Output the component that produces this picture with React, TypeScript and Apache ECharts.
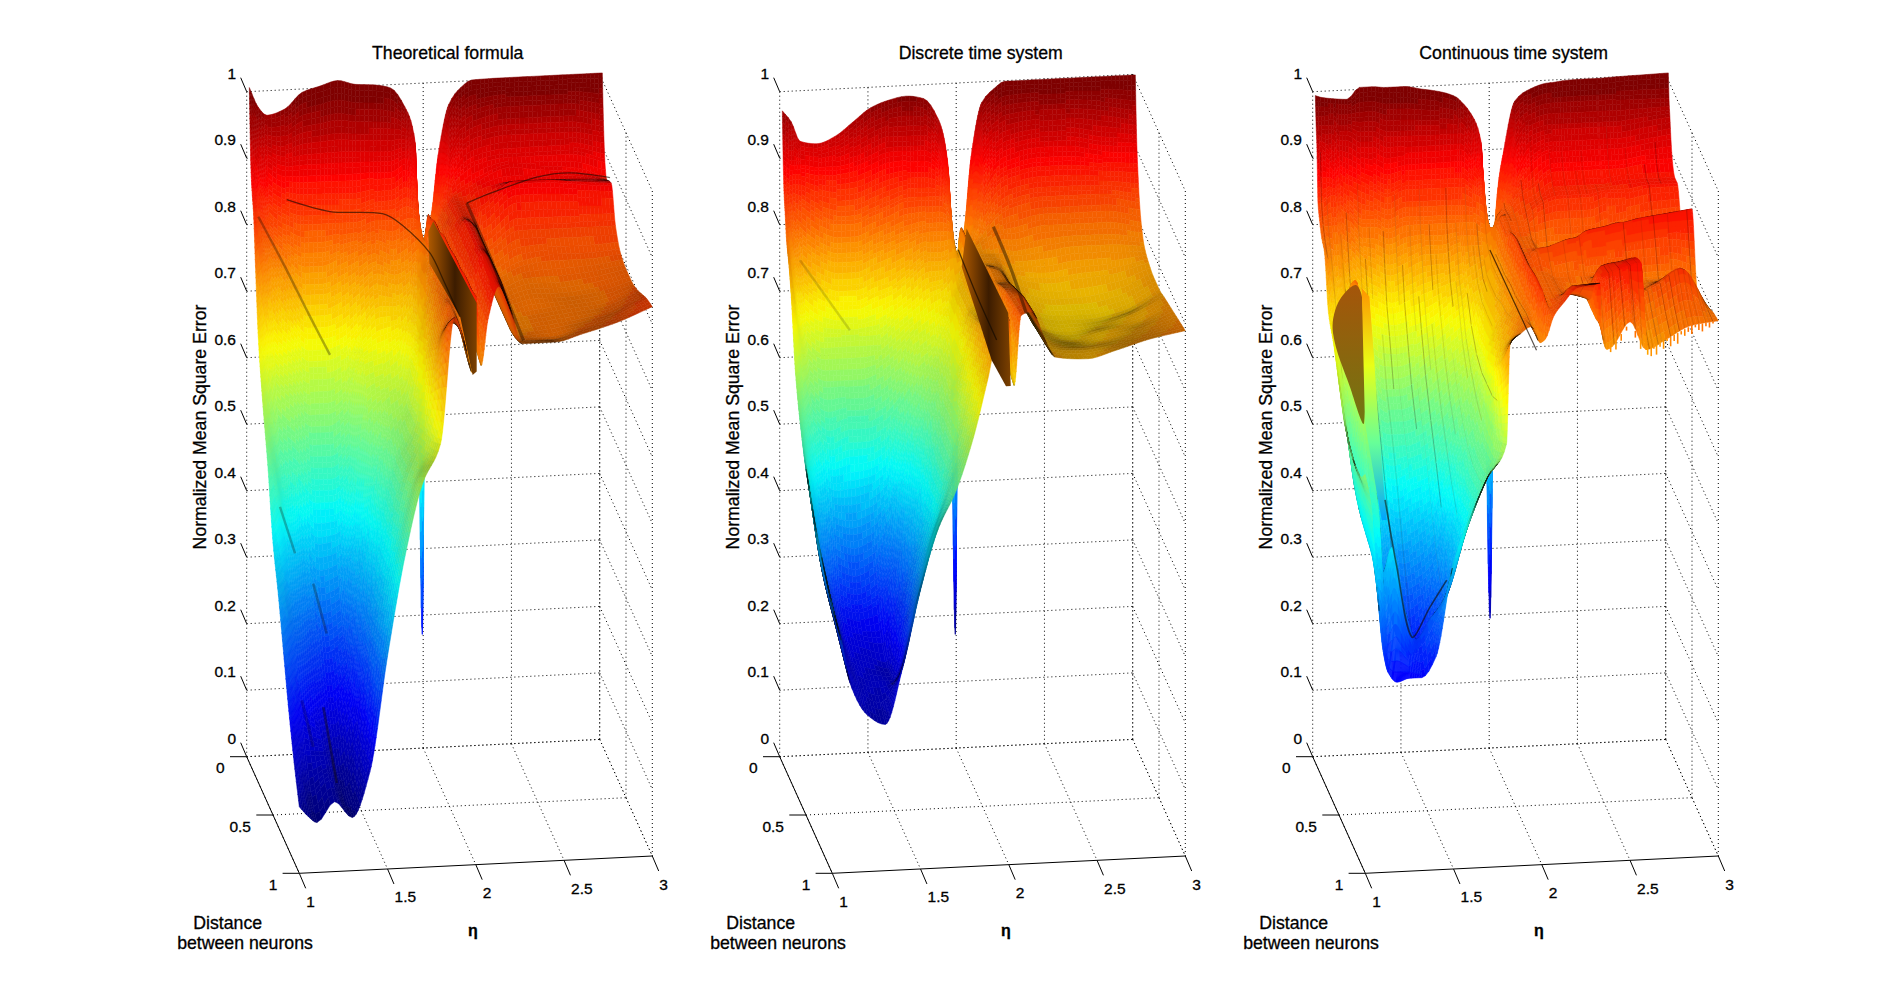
import React, { useEffect, useRef } from "react";
import * as echarts from "echarts";

const distGrid = [0.05, 0.065, 0.08, 0.1, 0.13, 0.17, 0.22, 0.3, 0.4, 0.5, 0.6, 0.7, 0.8, 0.9, 1];
const etaGridSmooth = [1, 1.05, 1.1, 1.2, 1.3, 1.4, 1.5, 1.6, 1.7, 1.8, 1.88, 1.94, 1.98, 2.0, 2.03, 2.07, 2.13, 2.2, 2.26, 2.45, 2.6, 2.8, 3];
const etaGridRough = [1, 1.03, 1.07, 1.1, 1.13, 1.18, 1.25, 1.32, 1.4, 1.5, 1.6, 1.7, 1.8, 1.82, 1.88, 1.94, 1.99, 2.02, 2.07, 2.13, 2.2, 2.33, 2.335, 2.37, 2.4, 2.5, 2.59, 2.6, 2.7, 2.85, 3];
const zTicks = [0, 0.1, 0.2, 0.3, 0.4, 0.5, 0.6, 0.7, 0.8, 0.9, 1];
const etaTicks = [1, 1.5, 2, 2.5, 3];
const distTicks = [0, 0.5, 1];
const panelTitles = ["Theoretical formula", "Discrete time system", "Continuous time system"];

// one line per eta column, values ordered as distGrid
const theoretical = [
  [1.015,.95,.90,.87,.84,.76,.67,.59,.51,.41,.35,.28,.21,.15,.10],
  [.985,.925,.87,.83,.79,.72,.63,.54,.47,.37,.31,.24,.17,.12,.085],
  [.972,.905,.84,.80,.76,.68,.60,.50,.42,.33,.27,.20,.14,.095,.075],
  [.98,.89,.82,.77,.72,.65,.57,.47,.36,.28,.22,.17,.14,.12,.105],
  [1.004,.89,.81,.75,.69,.62,.54,.44,.32,.24,.18,.13,.10,.085,.08],
  [1.012,.89,.81,.75,.69,.62,.54,.44,.33,.26,.22,.18,.16,.15,.147],
  [1.019,.89,.81,.76,.70,.63,.56,.47,.38,.34,.31,.30,.30,.30,.32],
  [1.012,.89,.81,.77,.72,.66,.62,.55,.47,.43,.42,.42,.43,.45,.47],
  [1.01,.89,.82,.78,.74,.69,.63,.58,.54,.52,.52,.53,.54,.56,.578],
  [1.004,.89,.82,.77,.73,.69,.65,.60,.58,.58,.59,.60,.61,.62,.635],
  [.975,.90,.83,.78,.74,.71,.69,.68,.69,.70,.72,.74,.77,.80,.825],
  [.92,.86,.82,.79,.76,.75,.75,.75,.76,.77,.78,.79,.79,.79,.78],
  [.18,.70,.78,.78,.78,.78,.78,.79,.79,.79,.79,.78,.77,.75,.74],
  [.78,.78,.80,.82,.82,.825,.83,.83,.84,.84,.845,.845,.85,.85,.855],
  [.81,.79,.785,.79,.80,.80,.80,.80,.80,.80,.79,.78,.77,.76,.75],
  [.90,.85,.83,.82,.82,.82,.825,.83,.83,.83,.83,.83,.82,.82,.82],
  [.975,.92,.88,.86,.85,.85,.85,.85,.86,.86,.86,.865,.865,.865,.868],
  [1.0,.95,.91,.88,.86,.85,.845,.84,.84,.84,.84,.84,.84,.835,.83],
  [1.01,.96,.92,.89,.87,.865,.85,.795,.77,.765,.765,.765,.765,.77,.78],
  [1.011,.97,.93,.90,.89,.875,.885,.825,.79,.78,.775,.77,.77,.77,.78],
  [1.011,.97,.93,.90,.885,.875,.885,.825,.795,.78,.775,.775,.775,.78,.79],
  [1.011,.97,.93,.90,.88,.875,.88,.825,.795,.785,.78,.78,.785,.795,.805],
  [1.011,.96,.92,.885,.865,.87,.875,.825,.80,.795,.795,.80,.81,.82,.826],
];
const discrete = [
  [.98,.91,.866,.84,.80,.775,.73,.63,.565,.52,.49,.46,.44,.42,.40],
  [.963,.90,.85,.80,.75,.70,.66,.58,.50,.44,.40,.38,.37,.36,.35],
  [.933,.90,.84,.78,.72,.67,.62,.55,.45,.37,.345,.33,.315,.30,.285],
  [.928,.895,.82,.76,.70,.65,.60,.52,.40,.31,.285,.27,.26,.25,.235],
  [.938,.895,.81,.75,.69,.65,.60,.53,.39,.30,.275,.26,.25,.235,.22],
  [.958,.90,.81,.75,.69,.65,.60,.53,.40,.31,.27,.25,.25,.27,.305],
  [.978,.91,.82,.76,.70,.65,.61,.54,.43,.36,.33,.33,.35,.38,.42],
  [.988,.92,.83,.77,.71,.67,.63,.57,.49,.44,.42,.43,.45,.48,.51],
  [.993,.92,.84,.78,.73,.69,.66,.61,.56,.53,.52,.52,.53,.55,.565],
  [.988,.92,.84,.79,.75,.71,.68,.64,.62,.61,.61,.61,.62,.63,.645],
  [.958,.90,.84,.79,.75,.72,.70,.69,.68,.68,.69,.70,.71,.72,.73],
  [.883,.85,.82,.79,.76,.74,.73,.73,.73,.74,.75,.76,.77,.78,.795],
  [.18,.70,.75,.76,.76,.75,.75,.75,.75,.75,.75,.75,.74,.73,.725],
  [.748,.76,.79,.80,.80,.80,.80,.805,.81,.81,.81,.815,.815,.82,.82],
  [.788,.77,.76,.77,.77,.77,.77,.77,.77,.77,.76,.75,.74,.73,.72],
  [.898,.85,.80,.79,.78,.78,.78,.78,.79,.79,.80,.81,.815,.82,.825],
  [.978,.93,.87,.83,.80,.79,.78,.78,.785,.79,.80,.81,.82,.825,.83],
  [.998,.95,.90,.86,.82,.80,.78,.765,.76,.76,.77,.775,.78,.785,.79],
  [1.008,.96,.91,.87,.83,.80,.775,.755,.745,.74,.74,.745,.75,.755,.76],
  [1.008,.965,.92,.88,.84,.81,.78,.745,.73,.725,.725,.73,.74,.75,.755],
  [1.008,.965,.92,.88,.84,.81,.785,.75,.73,.725,.73,.74,.745,.755,.765],
  [1.008,.96,.91,.875,.84,.81,.785,.755,.74,.735,.745,.75,.76,.77,.78],
  [1.008,.95,.905,.87,.83,.80,.78,.77,.765,.765,.77,.775,.78,.785,.79],
];
const continuous = [
  [1.003,.96,.93,.85,.83,.81,.80,.72,.69,.65,.61,.59,.58,.58,.60],
  [1.0,.96,.92,.85,.82,.80,.78,.71,.66,.60,.57,.56,.555,.555,.56],
  [.998,.96,.91,.86,.82,.79,.75,.70,.62,.55,.50,.48,.47,.46,.42],
  [.997,.96,.90,.86,.82,.79,.76,.74,.78,.80,.72,.62,.575,.53,.335],
  [.996,.95,.89,.84,.80,.76,.72,.68,.66,.66,.56,.50,.44,.42,.30],
  [.995,.95,.88,.83,.79,.74,.70,.64,.58,.52,.47,.42,.38,.47,.285],
  [1.012,.94,.87,.81,.77,.72,.68,.62,.56,.50,.44,.38,.31,.38,.29],
  [1.012,.94,.86,.81,.76,.71,.67,.60,.55,.49,.42,.36,.29,.33,.29],
  [1.01,.93,.85,.80,.75,.70,.665,.60,.55,.50,.43,.37,.32,.36,.32],
  [1.01,.93,.86,.81,.76,.71,.67,.61,.56,.51,.45,.40,.37,.40,.46],
  [1.005,.93,.86,.81,.77,.72,.68,.63,.58,.54,.50,.47,.47,.49,.53],
  [1.0,.93,.86,.81,.77,.73,.70,.65,.61,.58,.56,.55,.55,.56,.59],
  [.99,.93,.86,.81,.78,.74,.72,.68,.65,.63,.62,.61,.61,.62,.635],
  [.985,.93,.86,.81,.78,.75,.73,.70,.68,.68,.69,.70,.72,.75,.785],
  [.965,.91,.85,.81,.78,.76,.74,.73,.73,.73,.74,.75,.76,.78,.80],
  [.92,.875,.84,.80,.78,.77,.76,.76,.76,.77,.77,.78,.79,.80,.81],
  [.204,.76,.79,.80,.80,.80,.80,.80,.80,.80,.80,.80,.80,.79,.785],
  [.805,.80,.81,.82,.82,.83,.83,.83,.84,.84,.84,.845,.85,.85,.79],
  [.91,.86,.84,.83,.83,.83,.83,.82,.82,.82,.82,.82,.82,.82,.825],
  [.98,.94,.90,.86,.85,.84,.83,.82,.82,.835,.82,.82,.82,.83,.845],
  [.995,.96,.93,.89,.86,.85,.85,.80,.80,.84,.81,.81,.82,.85,.865],
  [1.005,.97,.94,.91,.885,.87,.865,.80,.80,.85,.81,.80,.81,.85,.87],
  [1.005,.97,.94,.91,.885,.87,.865,.80,.80,.85,.81,.80,.80,.80,.81],
  [1.006,.97,.94,.91,.885,.87,.865,.80,.80,.855,.81,.82,.85,.86,.77],
  [1.007,.97,.94,.91,.885,.87,.865,.80,.80,.86,.81,.83,.86,.865,.774],
  [1.008,.97,.94,.91,.885,.87,.865,.80,.80,.865,.81,.84,.865,.875,.81],
  [1.008,.97,.94,.91,.885,.87,.87,.81,.81,.87,.81,.84,.87,.88,.767],
  [1.008,.97,.94,.91,.885,.87,.87,.81,.81,.87,.80,.80,.815,.79,.767],
  [1.009,.97,.94,.91,.885,.875,.87,.82,.82,.875,.80,.81,.825,.80,.78],
  [1.01,.97,.945,.915,.89,.875,.875,.825,.83,.88,.80,.82,.85,.82,.80],
  [1.011,.97,.95,.92,.89,.875,.875,.83,.84,.885,.78,.78,.79,.80,.805],
];

// dark fold lines seen on the surfaces, as [eta, dist, z] points; a matching list holds [opacity, width]
const theoreticalCreases = [
  [[1.036,.1,.829],[1.177,.1,.757],[1.329,.1,.675],[1.442,.1,.616]],
  [[1.159,.1,.391],[1.244,.1,.32]],
  [[1.228,.5,.345],[1.304,.5,.269]],
  [[1.044,.9,.242],[1.109,.9,.171]],
  [[1.166,.9,.23],[1.242,.9,.115]],
  [[1.203,.08,.849],[1.448,.08,.828],[1.744,.08,.821],[1.858,.08,.802],[2.015,.08,.758],[1.965,.5,.792],[1.91,1,.825]],
  [[2.187,.2,.852],[2.319,.2,.865],[2.584,.2,.886],[2.772,.2,.89],[2.999,.2,.88]],
  [[2.187,.2,.852],[2.229,.5,.824],[2.27,1,.785]],
];
const theoreticalCreaseStyle = [[.32,2.4],[.28,2.4],[.28,2.6],[.2,3],[.4,2.6],[.62,1.3],[.6,1.3],[.4,3.2]];
const discreteCreases = [
  [[1.982,.1,.767],[1.967,.5,.769],[1.931,1,.79]],
  [[2.151,.2,.817],[2.156,.5,.81],[2.099,1,.828]],
  [[1.085,.1,.763],[1.368,.1,.654]],
];
const discreteCreaseStyle = [[.7,1.3],[.45,3.2],[.16,2.4]];
const continuousCreases = [
  [[1.974,.1,.767],[1.986,.5,.762],[1.97,1,.774]],
  [[1.142,.9,.542],[1.208,.9,.441],[1.293,.9,.334],[1.397,.9,.378],[1.491,.9,.417]],
];
const continuousCreaseStyle = [[.7,1.2],[.6,1.6]];
// dark wall at the eta = 2 ridge
const theoreticalWall = [[1.88,.5,.866],[1.908,.5,.881],[2.154,.5,.755],[2.154,.5,.652],[2.131,.5,.647],[2.06,.5,.736],[1.886,.5,.818]];
const discreteWall = [[1.882,.5,.813],[1.91,.5,.87],[2.146,.5,.74],[2.16,.5,.63],[2.133,.5,.63],[2.052,.5,.67]];
// hollow and thin sheet at the left of the continuous-time surface
const continuousHollow = [[.996,.4,.707],[1.024,.4,.752],[1.121,.4,.778],[1.16,.4,.759],[1.172,.4,.57],[1.092,.4,.625]];
const continuousSheet = [[1.159,.4,.773],[1.202,.4,.759],[1.228,.4,.669],[1.253,.4,.568],[1.3,.4,.422],[1.272,.4,.422],[1.177,.4,.569],[1.168,.4,.669]];
const sheetZ = [0.77, 0.67, 0.57, 0.42];
// vertical streaks of the continuous-time surface, as [eta, first row, last row]
const continuousStreaks = [
  [1.02,2,6],[1.05,3,8],[1.12,4,7],[1.16,3,9],[1.19,5,8],[1.23,2,6],[1.26,4,11],[1.29,3,5],[1.33,6,12],[1.37,3,7],[1.4,5,9],[1.44,2,5],
  [1.47,4,8],[1.5,7,12],[1.52,3,6],[1.55,5,10],[1.58,2,7],[1.61,6,11],[1.63,3,5],[1.66,4,9],[1.7,7,13],[1.73,2,6],[1.76,5,8],[1.78,3,10],
  [1.81,6,12],[1.84,2,5],[1.87,4,9],[1.9,3,7],[1.92,5,11],[1.95,2,8],[1.97,6,13],[2.01,3,7],[2.04,5,12],[2.06,2,6],[2.09,4,9],[2.12,7,13],
  [2.15,3,8],[2.18,5,13],[2.21,2,6],[2.24,4,7],[2.27,8,13],[2.31,3,6],[2.34,10,13],[2.36,9,14],[2.38,3,7],[2.41,10,14],[2.43,12,14],[2.45,4,8],
  [2.47,11,14],[2.49,3,6],[2.52,12,14],[2.53,10,14],[2.55,5,8],[2.57,11,14],[2.61,9,14],[2.63,11,14],[2.64,2,5],[2.66,10,14],[2.68,12,14],[2.71,9,13],
  [2.73,11,14],[2.74,3,6],[2.76,12,14],[2.78,9,14],[2.81,10,14],[2.83,12,14],[2.84,4,7],[2.86,9,14],[2.89,11,14],[2.91,3,6],[2.93,10,14],[2.95,12,14],[2.97,9,14],
];
// spikes below the front edge of the continuous-time surface, as [eta, drop]
const continuousFringe = [[2.6,.008],[2.62,.013],[2.635,.004],[2.65,.015],[2.67,.006],[2.69,.012],[2.71,.003],[2.73,.014],[2.75,.009],[2.77,.016],[2.79,.005],[2.81,.01],[2.83,.007],[2.85,.013],[2.87,.004],[2.89,.009],[2.91,.012],[2.93,.005],[2.95,.008],[2.97,.003],[2.39,.007],[2.42,.012],[2.45,.01],[2.48,.006],[2.53,.01],[2.56,.013]];

const panels: any[] = [
  { title: panelTitles[0], eta: etaGridSmooth, z: theoretical, low: 0.07, gain: 0.2, creases: theoreticalCreases, creaseStyle: theoreticalCreaseStyle, wall: theoreticalWall },
  { title: panelTitles[1], eta: etaGridSmooth, z: discrete, low: 0.18, gain: 0.2, creases: discreteCreases, creaseStyle: discreteCreaseStyle, wall: discreteWall },
  { title: panelTitles[2], eta: etaGridRough, z: continuous, low: 0.18, gain: 0.07, creases: continuousCreases, creaseStyle: continuousCreaseStyle, hollow: continuousHollow, sheet: continuousSheet, streaks: continuousStreaks, fringe: continuousFringe },
];

const PANEL_STEP = 533;
const GRID_LEFT = 160;
const FONT = '"Liberation Sans", Arial, sans-serif';

// oblique view of the MATLAB axes box, in the plane of each grid's x/y axes
const project = (eta: number, dist: number, z: number): [number, number] => [
  86.7 + 176.5 * (eta - 1) + 52.6 * dist,
  756.7 - 8.65 * (eta - 1) + 116.6 * dist - 665 * z,
];

const clamp01 = (v: number) => Math.max(0, Math.min(1, v));
const jetColor = (t: number, dark: number) => {
  const q = Math.min(63, Math.floor(clamp01(t) * 64)) / 63;
  const k = 1 - dark;
  const r = clamp01(1.5 - Math.abs(4 * q - 3)) * 255 * k;
  const g = clamp01(1.5 - Math.abs(4 * q - 2)) * 255 * k;
  const b = clamp01(1.5 - Math.abs(4 * q - 1)) * 255 * k;
  return `rgb(${Math.round(r)},${Math.round(g)},${Math.round(b)})`;
};

// monotone slopes, so that the mesh is shaded smoothly between read values without overshoot
const slopes = (xs: number[], ys: number[]) => {
  const n = xs.length;
  const h = xs.slice(1).map((x, i) => x - xs[i]);
  const m = h.map((w, i) => (ys[i + 1] - ys[i]) / w);
  const s = new Array(n).fill(0);
  s[0] = m[0];
  s[n - 1] = m[n - 2];
  for (let i = 1; i < n - 1; i++) {
    if (m[i - 1] * m[i] > 0) {
      const w1 = 2 * h[i] + h[i - 1], w2 = h[i] + 2 * h[i - 1];
      s[i] = (w1 + w2) / (w1 / m[i - 1] + w2 / m[i]);
    }
  }
  return s;
};
const hermite = (t: number, a: number, b: number, sa: number, sb: number, w: number) => {
  const t2 = t * t, t3 = t2 * t;
  return (2 * t3 - 3 * t2 + 1) * a + (t3 - 2 * t2 + t) * w * sa + (-2 * t3 + 3 * t2) * b + (t3 - t2) * w * sb;
};

const makeSurfaceRender = (p: any) => {
  const nR = distGrid.length;
  const sE: number[][] = []; // by row
  for (let r = 0; r < nR; r++) sE.push(slopes(p.eta, p.z.map((col: number[]) => col[r])));
  const sD: number[][] = p.z.map((col: number[]) => slopes(distGrid, col)); // by column
  const streaks: number[][] = p.streaks || [];
  return (_: any, api: any) => {
    const c = api.value(0) as number;
    const r = api.value(1) as number;
    const e0 = p.eta[c], e1 = p.eta[c + 1], d0 = distGrid[r], d1 = distGrid[r + 1];
    const we = e1 - e0, wd = d1 - d0;
    const z00 = p.z[c][r], z10 = p.z[c + 1][r], z01 = p.z[c][r + 1], z11 = p.z[c + 1][r + 1];
    const nE = Math.max(2, Math.ceil(we / 0.025), Math.min(14, Math.ceil(Math.max(Math.abs(z10 - z00), Math.abs(z11 - z01)) / 0.008)));
    const nD = Math.max(2, Math.ceil(wd / 0.034), Math.min(14, Math.ceil(Math.max(Math.abs(z01 - z00), Math.abs(z11 - z10)) / 0.008)));
    const at = (u: number, v: number) => {
      const low = hermite(u, z00, z10, sE[r][c], sE[r][c + 1], we);
      const high = hermite(u, z01, z11, sE[r + 1][c], sE[r + 1][c + 1], we);
      const left = hermite(v, z00, z01, sD[c][r], sD[c][r + 1], wd);
      const right = hermite(v, z10, z11, sD[c + 1][r], sD[c + 1][r + 1], wd);
      const bi = z00 * (1 - u) * (1 - v) + z10 * u * (1 - v) + z01 * (1 - u) * v + z11 * u * v;
      return (1 - v) * low + v * high + (1 - u) * left + u * right - bi;
    };
    const children: any[] = [];
    for (let i = 0; i < nD; i++) {
      for (let j = nE - 1; j >= 0; j--) {
        const u0 = j / nE, u1 = (j + 1) / nE, v0 = i / nD, v1 = (i + 1) / nD;
        const ea = e0 + we * u0, eb = e0 + we * u1;
        const da = d0 + wd * v0, db = d0 + wd * v1;
        const A = at(u0, v0), B = at(u1, v0), C = at(u1, v1), D = at(u0, v1);
        const pa = project(ea, da, A), pb = project(eb, da, B), pc = project(eb, db, C), pd = project(ea, db, D);
        const area = ((pc[0] - pa[0]) * (pd[1] - pb[1]) - (pc[1] - pa[1]) * (pd[0] - pb[0])) / 2;
        const ratio = Math.abs(area) / ((eb - ea) * (db - da)) / 21034;
        const dark = Math.min(0.85, p.gain / Math.max(ratio, 0.01));
        const fill = jetColor(((A + B + C + D) / 4 - p.low) / (1 - p.low), dark);
        children.push({
          type: "polygon",
          silent: true,
          shape: { points: [pa, pb, pc, pd].map((q) => api.coord(q)) },
          style: { fill, stroke: fill, lineWidth: 0.5 },
        });
      }
    }
    streaks.forEach((s, k) => {
      if (s[0] >= e0 && s[0] < e1 && r >= s[1] && r < s[2]) {
        const u = (s[0] - e0) / we;
        const a = api.coord(project(s[0], d0, at(u, 0)));
        const b = api.coord(project(s[0], d1, at(u, 1)));
        children.push({
          type: "line",
          silent: true,
          shape: { x1: a[0], y1: a[1], x2: b[0], y2: b[1] },
          style: { stroke: k % 3 === 0 ? "rgba(40,0,0,0.28)" : "rgba(70,20,0,0.14)", lineWidth: 0.9 },
        });
      }
    });
    return { type: "group", children };
  };
};

const frontZ = (p: any, e: number) => {
  let c = 0;
  while (c < p.eta.length - 2 && p.eta[c + 1] < e) c++;
  const u = (e - p.eta[c]) / (p.eta[c + 1] - p.eta[c]);
  return p.z[c][distGrid.length - 1] * (1 - u) + p.z[c + 1][distGrid.length - 1] * u;
};

const makeOverlayRender = (p: any) => (_: any, api: any) => {
  const children: any[] = [];
  const pts = (list: number[][]) => list.map((q) => api.coord(project(q[0], q[1], q[2])));
  const patch = (list: number[][], fill: any, smooth = 0) => ({
    type: "polygon",
    silent: true,
    shape: { points: pts(list), smooth },
    style: { fill },
  });
  if (p.wall) {
    children.push(patch(p.wall, new echarts.graphic.LinearGradient(0, 0, 1, 0, [
      { offset: 0, color: "rgb(175,90,0)" },
      { offset: 0.55, color: "rgb(60,28,0)" },
      { offset: 1, color: "rgb(125,65,0)" },
    ])));
  }
  if (p.hollow) {
    children.push(patch(p.hollow, new echarts.graphic.LinearGradient(0, 0, 0, 1, [
      { offset: 0, color: "rgb(165,85,10)" },
      { offset: 1, color: "rgb(112,118,18)" },
    ]), 0.35));
  }
  if (p.sheet) {
    children.push(patch(p.sheet, new echarts.graphic.LinearGradient(0, 0, 0, 1,
      sheetZ.map((z, i) => ({ offset: i / (sheetZ.length - 1), color: jetColor((z - p.low) / (1 - p.low), 0) })))));
  }
  p.creases.forEach((list: number[][], i: number) => {
    const st = p.creaseStyle[i];
    children.push({
      type: "polyline",
      silent: true,
      shape: { points: pts(list), smooth: 0.3 },
      style: { stroke: `rgba(20,10,0,${st[0]})`, lineWidth: st[1], fill: "none" },
    });
  });
  (p.fringe || []).forEach((f: number[]) => {
    const z = frontZ(p, f[0]);
    const a = api.coord(project(f[0], 1, z));
    const b = api.coord(project(f[0], 1, z - f[1]));
    children.push({
      type: "line",
      silent: true,
      shape: { x1: a[0], y1: a[1], x2: b[0], y2: b[1] },
      style: { stroke: jetColor((z - p.low) / (1 - p.low), 0), lineWidth: 1.6 },
    });
  });
  return { type: "group", children };
};

const makeBoxRender = (p: any) => (_: any, api: any) => {
  const pt = (e: number, d: number, z: number) => api.coord(project(e, d, z));
  const line = (a: number[], b: number[], dotted: boolean) => ({
    type: "line",
    silent: true,
    shape: { x1: a[0], y1: a[1], x2: b[0], y2: b[1] },
    style: { stroke: "#000", lineWidth: 1, lineDash: dotted ? [1, 3] : undefined },
  });
  const label = (text: string, a: number[], dx: number, dy: number, align: string, size = 15.5, rotation = 0, weight = "normal") => ({
    type: "text",
    silent: true,
    x: a[0] + dx,
    y: a[1] + dy,
    rotation,
    style: { text, font: `${weight} ${size}px ${FONT}`, fill: "#000", stroke: "#000", lineWidth: 0.3, align, verticalAlign: "middle" },
  });
  const out: any[] = [];
  // dotted walls and floor
  zTicks.forEach((z) => {
    out.push(line(pt(1, 0, z), pt(3, 0, z), true));
    out.push(line(pt(3, 0, z), pt(3, 1, z), true));
  });
  etaTicks.forEach((e) => {
    out.push(line(pt(e, 0, 0), pt(e, 0, 1), true));
    out.push(line(pt(e, 0, 0), pt(e, 1, 0), true));
  });
  distTicks.forEach((d) => {
    out.push(line(pt(3, d, 0), pt(3, d, 1), true));
    if (d < 1) out.push(line(pt(1, d, 0), pt(3, d, 0), true));
  });
  // solid axes
  out.push(line(pt(1, 0, 0), pt(1, 1, 0), false));
  out.push(line(pt(1, 1, 0), pt(3, 1, 0), false));
  zTicks.forEach((z) => {
    const a = pt(1, 0, z);
    out.push(line(a, [a[0] - 6, a[1] - 14], false));
    out.push(label(String(z), a, -10.7, -18.3, "right"));
  });
  distTicks.forEach((d) => {
    const a = pt(1, d, 0);
    out.push(line(a, [a[0] - 16.7, a[1]], false));
    out.push(label(String(d), a, -22, 11, "right"));
  });
  etaTicks.forEach((e) => {
    const a = pt(e, 1, 0);
    out.push(line(a, [a[0] + 6.4, a[1] + 15], false));
    out.push(label(String(e), a, 7, 28, "left"));
  });
  const origin = api.coord([0, 0]);
  out.push(label(p.title, origin, 287.7, 53, "center", 17.7));
  out.push(label("Distance", origin, 67.7, 923, "center", 17.7));
  out.push(label("between neurons", origin, 85, 942.7, "center", 17.7));
  out.push(label("η", origin, 313, 930, "center", 16, 0, "bold"));
  out.push(label("Normalized Mean Square Error", origin, 39.5, 427, "center", 17.7, Math.PI / 2));
  return { type: "group", children: out };
};

export default function App() {
  const ref = useRef<HTMLDivElement>(null);
  useEffect(() => {
    document.body.style.margin = "0";
    const chart = echarts.init(ref.current!, undefined, { renderer: "svg" });
    const series: any[] = [];
    panels.forEach((p, i) => {
      const base = { type: "custom", coordinateSystem: "cartesian2d", xAxisIndex: i, yAxisIndex: i, silent: true, clip: false };
      series.push({ ...base, renderItem: makeBoxRender(p), data: [[0, 0]], z: 1 });
      const cells: number[][] = [];
      for (let r = 0; r < distGrid.length - 1; r++) {
        for (let c = p.eta.length - 2; c >= 0; c--) cells.push([c, r]);
      }
      series.push({ ...base, renderItem: makeSurfaceRender(p), data: cells, z: 2 });
      series.push({ ...base, renderItem: makeOverlayRender(p), data: [[0, 0]], z: 3 });
    });
    chart.setOption({
      animation: false,
      backgroundColor: "#fff",
      grid: panels.map((_, i) => ({ left: GRID_LEFT + PANEL_STEP * i, top: 0, width: PANEL_STEP, height: 981 })),
      xAxis: panels.map((_, i) => ({ type: "value", gridIndex: i, min: 0, max: PANEL_STEP, show: false })),
      yAxis: panels.map((_, i) => ({ type: "value", gridIndex: i, min: 0, max: 981, inverse: true, show: false })),
      series,
    });
    return () => chart.dispose();
  }, []);
  return <div ref={ref} style={{ width: 1899, height: 981 }} />;
}
